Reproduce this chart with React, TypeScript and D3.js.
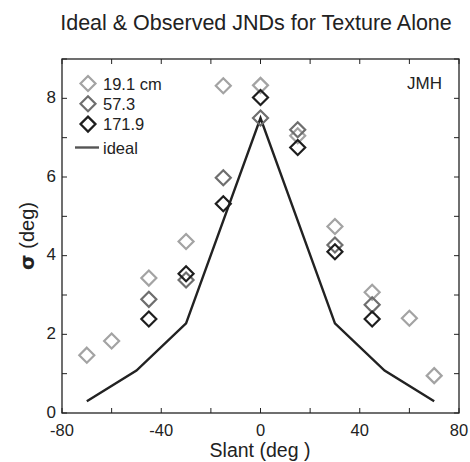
import React from "react";
import * as d3 from "d3";

const seriesNames = ["19.1 cm", "57.3", "171.9"];
const seriesColors = ["#a3a3a3", "#6e6e6e", "#1e1e1e"];

const light: [number, number][] = [
  [-70, 1.47], [-60, 1.83], [-45, 3.43], [-30, 4.36], [-15, 8.32], [0, 8.33],
  [15, 7.05], [30, 4.74], [45, 3.07], [60, 2.41], [70, 0.95],
];
const medium: [number, number][] = [
  [-45, 2.89], [-30, 3.38], [-15, 5.98], [0, 7.5], [15, 7.2], [30, 4.27], [45, 2.75],
];
const dark: [number, number][] = [
  [-45, 2.39], [-30, 3.54], [-15, 5.32], [0, 8.02], [15, 6.75], [30, 4.1], [45, 2.39],
];
const ideal: [number, number][] = [
  [-70, 0.3], [-50, 1.08], [-30, 2.28], [0, 7.5], [30, 2.28], [50, 1.08], [70, 0.3],
];

const xTicks = [-80, -60, -40, -20, 0, 20, 40, 60, 80];
const xLabels = [-80, -40, 0, 40, 80];
const yTicks = [0, 1, 2, 3, 4, 5, 6, 7, 8, 9];
const yLabels = [0, 2, 4, 6, 8];

const L = 62, R = 459, T = 59, B = 413;
const font = "Liberation Sans, Arial, Helvetica, sans-serif";

function Diamond({ cx, cy, color, r = 7.5 }: { cx: number; cy: number; color: string; r?: number }) {
  const d = `M${cx},${cy - r}L${cx + r},${cy}L${cx},${cy + r}L${cx - r},${cy}Z`;
  return <path d={d} fill="none" stroke={color} strokeWidth={2.2} />;
}

export default function App() {
  const x = d3.scaleLinear().domain([-80, 80]).range([L, R]);
  const y = d3.scaleLinear().domain([0, 9]).range([B, T]);
  const line = d3.line<[number, number]>().x((d) => x(d[0])).y((d) => y(d[1]));
  const all = [light, medium, dark];
  const tl = 5;
  return (
    <svg width={470} height={462} style={{ position: "absolute", left: 0, top: 0 }} fontFamily={font}>
      <rect width={470} height={462} fill="#fff" />
      <text x={256} y={30} fontSize={21.5} textAnchor="middle" fill="#222">
        Ideal &amp; Observed JNDs for Texture Alone
      </text>
      {xTicks.map((t) => (
        <g key={"x" + t}>
          <line x1={x(t)} x2={x(t)} y1={B} y2={B - tl} stroke="#222" strokeWidth={1} />
          <line x1={x(t)} x2={x(t)} y1={T} y2={T + tl} stroke="#222" strokeWidth={1} />
        </g>
      ))}
      {yTicks.map((t) => (
        <g key={"y" + t}>
          <line x1={L} x2={L + tl} y1={y(t)} y2={y(t)} stroke="#222" strokeWidth={1} />
          <line x1={R} x2={R - tl} y1={y(t)} y2={y(t)} stroke="#222" strokeWidth={1} />
        </g>
      ))}
      <rect x={L} y={T} width={R - L} height={B - T} fill="none" stroke="#222" strokeWidth={1.3} />
      {xLabels.map((t) => (
        <text key={"xl" + t} x={x(t)} y={B + 23} fontSize={16.5} textAnchor="middle" fill="#222">
          {t}
        </text>
      ))}
      {yLabels.map((t) => (
        <text key={"yl" + t} x={L - 6} y={y(t) + 4.5} fontSize={17} textAnchor="end" fill="#222">
          {t}
        </text>
      ))}
      <text x={260} y={457} fontSize={19.5} textAnchor="middle" fill="#222">
        Slant (deg )
      </text>
      <text transform={`translate(34,${(T + B) / 2}) rotate(-90)`} fontSize={20} textAnchor="middle" fill="#222">
        <tspan fontWeight="bold" fontFamily="DejaVu Sans, sans-serif">σ</tspan>
        <tspan> (deg)</tspan>
      </text>
      <path d={line(ideal) || ""} fill="none" stroke="#222" strokeWidth={2.4} />
      {all.map((s, i) =>
        s.map((d, j) => <Diamond key={i + "-" + j} cx={x(d[0])} cy={y(d[1])} color={seriesColors[i]} />)
      )}
      {seriesNames.map((n, i) => (
        <g key={"lg" + i}>
          <Diamond cx={88} cy={83.5 + i * 20.3} color={seriesColors[i]} />
          <text x={103} y={83.5 + i * 20.3 + 6} fontSize={16.5} fill="#222">
            {n}
          </text>
        </g>
      ))}
      <line x1={75} x2={99} y1={147.5} y2={147.5} stroke="#555" strokeWidth={2.4} />
      <text x={103} y={153.5} fontSize={16.5} fill="#222">ideal</text>
      <text x={442} y={89} fontSize={17} textAnchor="end" fill="#222">JMH</text>
    </svg>
  );
}
